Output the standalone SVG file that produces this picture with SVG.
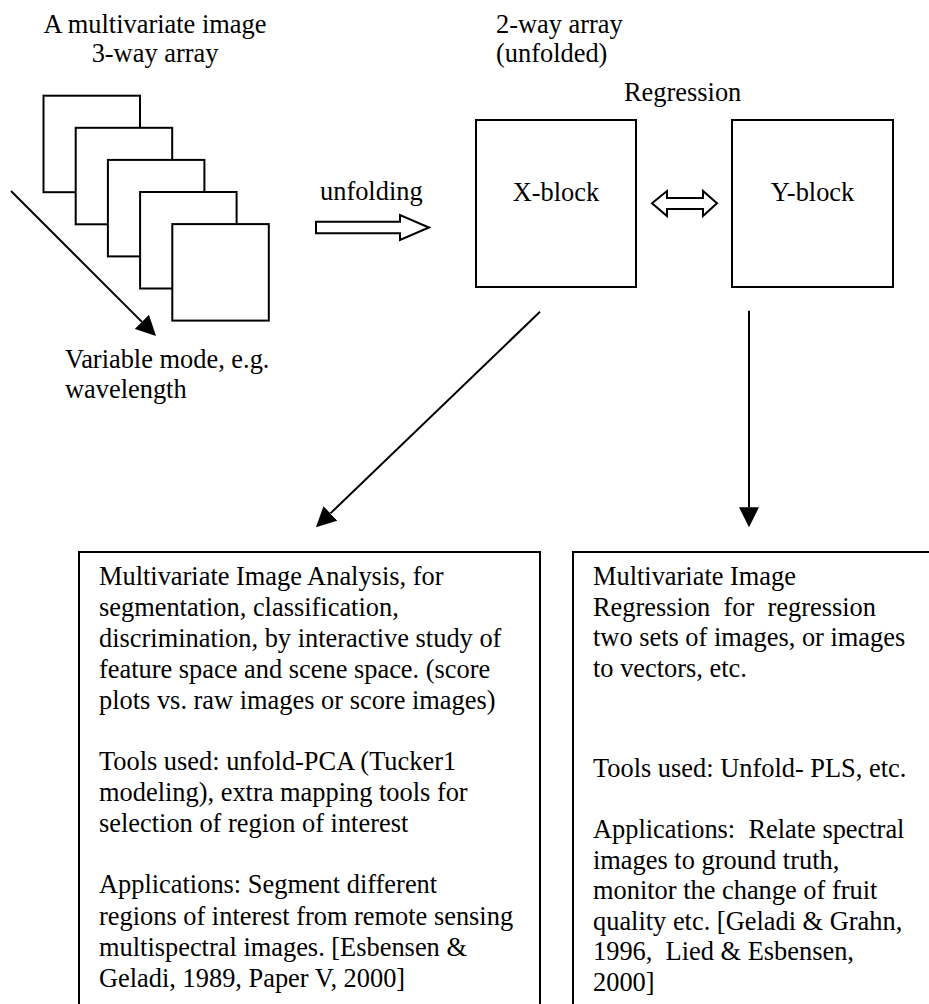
<svg xmlns="http://www.w3.org/2000/svg" width="929" height="1004" viewBox="0 0 929 1004">
  <style>
    text { font-family: "Liberation Serif", "Times New Roman", serif; font-size: 26.4px; fill: #000; white-space: pre; }
    .mid { text-anchor: middle; }
    .box { fill: #fff; stroke: #000; stroke-width: 2; }
    .frame { fill: #fff; stroke: #000; stroke-width: 2; }
    .edge { fill: none; stroke: #000; stroke-width: 2; }
    .hollow { fill: #fff; stroke: #000; stroke-width: 2; stroke-linejoin: miter; }
  </style>
  <defs>
    <marker id="head" viewBox="0 -10 20 20" refX="0" refY="0" markerWidth="20" markerHeight="20" markerUnits="userSpaceOnUse" orient="auto">
      <path d="M0,-10 L20,0 L0,10 Z" fill="#000"/>
    </marker>
  </defs>

  <rect width="929" height="1004" fill="#fff"/>

  <!-- stack of image slices (3-way array) -->
  <g id="cube">
    <text class="mid" x="155" y="32.5">A multivariate image</text>
    <text class="mid" x="155" y="62">3-way array</text>
    <rect class="frame" x="43.5" y="95.7" width="96.5" height="96.5"/>
    <rect class="frame" x="75.7" y="127.8" width="96.5" height="96.5"/>
    <rect class="frame" x="107.9" y="159.9" width="96.5" height="96.5"/>
    <rect class="frame" x="140.1" y="192" width="96.5" height="96.5"/>
    <rect class="frame" x="172.3" y="224.1" width="96.5" height="96.5"/>
  </g>

  <g id="variable-label">
    <text x="65" y="368">Variable mode, e.g.</text>
    <text x="65" y="398">wavelength</text>
  </g>

  <!-- unfolding step -->
  <g id="unfolding">
    <text x="320" y="200">unfolding</text>
    <polygon class="hollow" points="316,221.7 400,221.7 400,215 429,227.5 400,240 400,233.3 316,233.3"/>
  </g>

  <g id="unfolded-label">
    <text x="496" y="33">2-way array</text>
    <text x="496" y="62">(unfolded)</text>
  </g>

  <g id="x-block">
    <rect class="box" x="476" y="120" width="160" height="167"/>
    <text class="mid" x="556" y="200.5">X-block</text>
  </g>

  <g id="regression">
    <text x="624" y="101">Regression</text>
    <polygon class="hollow" points="652,203.3 667,191 667,198 703,198 703,191 717,203.3 703,216 703,209 667,209 667,216"/>
  </g>

  <g id="y-block">
    <rect class="box" x="732" y="120" width="161" height="167"/>
    <text class="mid" x="812.5" y="200.5">Y-block</text>
  </g>

  <!-- analysis box -->
  <g id="analysis">
    <rect class="box" x="79" y="552" width="461" height="470"/>
    <text x="99" y="585">Multivariate Image Analysis, for</text>
    <text x="99" y="616">segmentation, classification,</text>
    <text x="99" y="647">discrimination, by interactive study of</text>
    <text x="99" y="678">feature space and scene space. (score</text>
    <text x="99" y="709">plots vs. raw images or score images)</text>
    <text x="99" y="770">Tools used: unfold-PCA (Tucker1</text>
    <text x="99" y="801">modeling), extra mapping tools for</text>
    <text x="99" y="832">selection of region of interest</text>
    <text x="99" y="893">Applications: Segment different</text>
    <text x="99" y="924.5">regions of interest from remote sensing</text>
    <text x="99" y="955.5">multispectral images. [Esbensen &amp;</text>
    <text x="99" y="986.5">Geladi, 1989, Paper V, 2000]</text>
  </g>

  <!-- regression box -->
  <g id="image-regression">
    <rect class="box" x="573" y="552" width="380" height="470"/>
    <text x="593" y="585">Multivariate Image</text>
    <text x="593" y="615.5">Regression  for  regression</text>
    <text x="593" y="646">two sets of images, or images</text>
    <text x="593" y="676.5">to vectors, etc.</text>
    <text x="593" y="776.5">Tools used: Unfold- PLS, etc.</text>
    <text x="593" y="838">Applications:  Relate spectral</text>
    <text x="593" y="868.5">images to ground truth,</text>
    <text x="593" y="899">monitor the change of fruit</text>
    <text x="593" y="929.5">quality etc. [Geladi &amp; Grahn,</text>
    <text x="593" y="960">1996,  Lied &amp; Esbensen,</text>
    <text x="593" y="990.5">2000]</text>
  </g>

  <!-- connectors -->
  <g id="connectors">
    <line class="edge" x1="11" y1="191" x2="141.9" y2="321.9" marker-end="url(#head)"/>
    <line class="edge" x1="540" y1="311.7" x2="330.4" y2="513.4" marker-end="url(#head)"/>
    <line class="edge" x1="749" y1="310.7" x2="749" y2="507.3" marker-end="url(#head)"/>
  </g>
</svg>
